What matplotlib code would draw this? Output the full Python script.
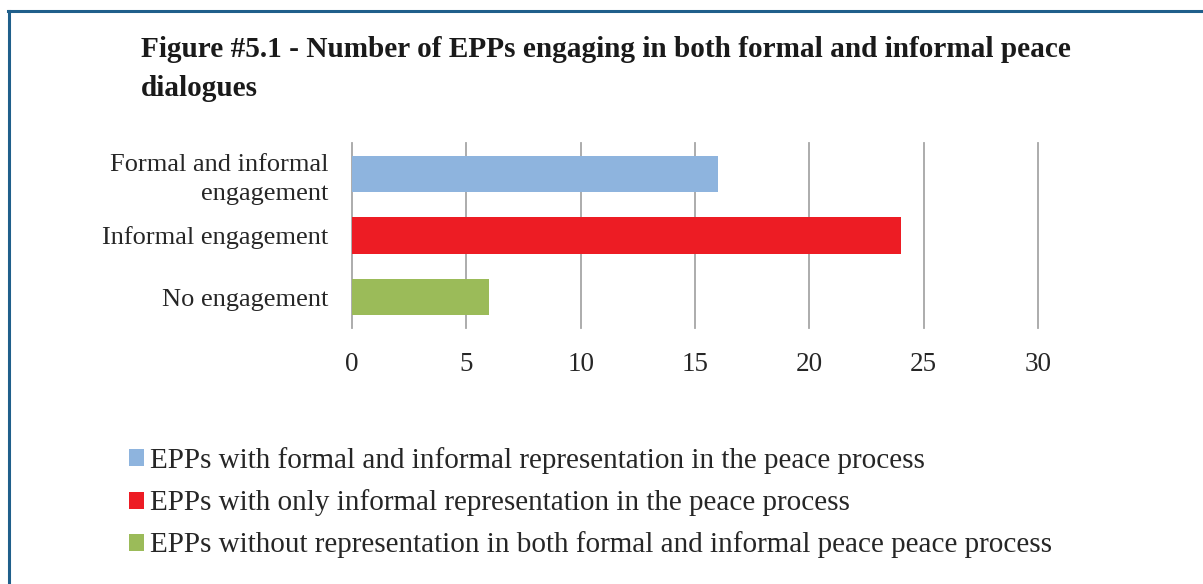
import matplotlib
matplotlib.use("Agg")
import matplotlib.pyplot as plt
from matplotlib.patches import Patch
from matplotlib.lines import Line2D

categories = ["Formal and informal\nengagement", "Informal engagement", "No engagement"]
values = [16, 24, 6]
colors = ["#8eb4de", "#ed1c24", "#9bbb59"]
legend_labels = [
    "EPPs with formal and informal representation in the peace process",
    "EPPs with only informal representation in the peace process",
    "EPPs without representation in both formal and informal peace peace process",
]
xticks = [0, 5, 10, 15, 20, 25, 30]
title = "Figure #5.1 - Number of EPPs engaging in both formal and informal peace\ndialogues"

serif = ["Liberation Serif", "DejaVu Serif"]

fig = plt.figure(figsize=(12.03, 5.84), dpi=100)
ax = fig.add_axes([352/1203, 1-328/584, (1038-352)/1203, (328-143)/584])

ypos = list(range(len(categories)))
ax.barh(ypos, values, height=0.585, color=colors, zorder=3)
ax.set_ylim(len(categories)-0.5, -0.5)
ax.set_xlim(0, 30)
ax.set_xticks(xticks)
ax.set_xticklabels([str(t) for t in xticks], fontfamily=serif, fontsize=19.5, color="#262626")
ax.set_yticks(ypos)
ax.set_yticklabels(categories, fontfamily=serif, fontsize=19, color="#262626", linespacing=1.4)
ax.tick_params(axis="both", length=0)
ax.tick_params(axis="x", pad=17)
ax.tick_params(axis="y", pad=17)
ax.grid(axis="x", color="#a6a6a6", linewidth=1.3, zorder=0)
for gl in ax.get_xgridlines():
    gl.set_clip_on(False)
for s in ax.spines.values():
    s.set_visible(False)

fig.text(141/1203, 1-36/584, title, fontfamily=serif, fontsize=21.1, fontweight="bold",
         color="#1a1a1a", va="top", ha="left", linespacing=1.55)

handles = [Patch(facecolor=c, edgecolor="none") for c in colors]
fig.legend(handles, legend_labels, loc="upper left", bbox_to_anchor=(103/1203, 1-421/584),
           frameon=False, prop={"family": serif, "size": 21}, handlelength=0.52, handleheight=0.52,
           handletextpad=0.2, labelspacing=0.52, labelcolor="#262626")

fig.add_artist(Line2D([8/1203, 1], [1-10.5/584, 1-10.5/584], color="#1f5f8b", linewidth=2.2,
                      transform=fig.transFigure))
fig.add_artist(Line2D([8.5/1203, 8.5/1203], [0, 1-10.5/584], color="#1f5f8b", linewidth=2.2,
                      transform=fig.transFigure))

fig.savefig("out.png", dpi=100)
